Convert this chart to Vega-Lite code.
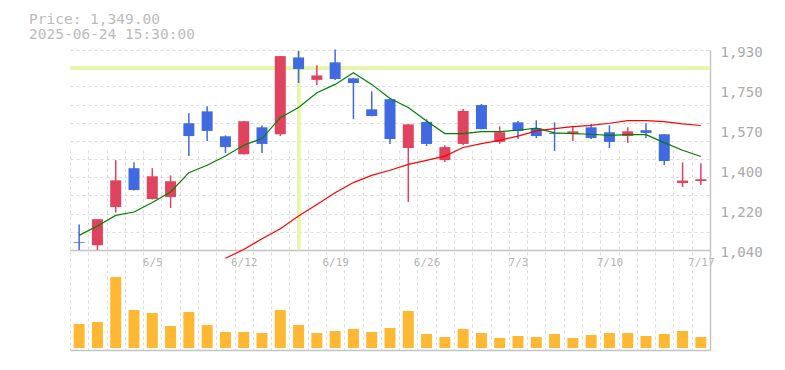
{
  "$schema": "https://vega.github.io/schema/vega-lite/v6.json",
  "autosize": {"type": "none"},
  "padding": {"left": 70, "top": 50, "right": 75, "bottom": 20},
  "width": 640,
  "height": 300,
  "background": "white",
  "title": {
    "text": ["Price: 1,349.00", "2025-06-24 15:30:00"],
    "anchor": "start",
    "frame": "group",
    "orient": "top",
    "dx": -41,
    "offset": 3,
    "font": "DejaVu Sans Mono",
    "fontSize": 14.5,
    "fontWeight": "normal",
    "color": "#bbbbbb",
    "lineHeight": 15
  },
  "config": {
    "font": "DejaVu Sans Mono",
    "view": {"stroke": null},
    "axis": {
      "labelFont": "DejaVu Sans Mono",
      "labelColor": "#aaaaaa",
      "domainColor": "#c4c4c4",
      "gridColor": "#dadada",
      "gridDash": [3, 3],
      "gridWidth": 1,
      "ticks": false
    }
  },
  "data": {
    "values": [
      {"d": "5/30", "o": 1076, "h": 1154, "l": 1040, "c": 1072, "v": 24000, "ma5": 1105, "ma25": null},
      {"d": "6/2", "o": 1061, "h": 1178, "l": 1040, "c": 1177, "v": 26000, "ma5": 1147, "ma25": null},
      {"d": "6/3", "o": 1231, "h": 1440, "l": 1206, "c": 1350, "v": 71000, "ma5": 1194, "ma25": null},
      {"d": "6/4", "o": 1404, "h": 1430, "l": 1305, "c": 1307, "v": 38000, "ma5": 1209, "ma25": null},
      {"d": "6/5", "o": 1267, "h": 1404, "l": 1265, "c": 1368, "v": 35000, "ma5": 1251, "ma25": null},
      {"d": "6/6", "o": 1276, "h": 1372, "l": 1227, "c": 1346, "v": 22000, "ma5": 1298, "ma25": null},
      {"d": "6/9", "o": 1604, "h": 1648, "l": 1458, "c": 1547, "v": 36000, "ma5": 1384, "ma25": null},
      {"d": "6/10", "o": 1657, "h": 1680, "l": 1525, "c": 1570, "v": 23000, "ma5": 1417, "ma25": null},
      {"d": "6/11", "o": 1546, "h": 1550, "l": 1472, "c": 1498, "v": 16000, "ma5": 1458, "ma25": 1003},
      {"d": "6/12", "o": 1466, "h": 1614, "l": 1465, "c": 1613, "v": 16000, "ma5": 1506, "ma25": 1042},
      {"d": "6/13", "o": 1586, "h": 1594, "l": 1472, "c": 1512, "v": 15000, "ma5": 1536, "ma25": 1090},
      {"d": "6/16", "o": 1555, "h": 1904, "l": 1547, "c": 1903, "v": 38000, "ma5": 1629, "ma25": 1135},
      {"d": "6/17", "o": 1897, "h": 1926, "l": 1783, "c": 1845, "v": 23000, "ma5": 1674, "ma25": 1191},
      {"d": "6/18", "o": 1797, "h": 1862, "l": 1774, "c": 1817, "v": 15000, "ma5": 1740, "ma25": 1243},
      {"d": "6/19", "o": 1875, "h": 1932, "l": 1796, "c": 1801, "v": 17000, "ma5": 1777, "ma25": 1295},
      {"d": "6/20", "o": 1804, "h": 1806, "l": 1622, "c": 1783, "v": 19000, "ma5": 1829, "ma25": 1340},
      {"d": "6/23", "o": 1666, "h": 1746, "l": 1635, "c": 1636, "v": 16000, "ma5": 1777, "ma25": 1372},
      {"d": "6/24", "o": 1711, "h": 1718, "l": 1512, "c": 1534, "v": 20000, "ma5": 1714, "ma25": 1395},
      {"d": "6/25", "o": 1494, "h": 1600, "l": 1254, "c": 1599, "v": 37000, "ma5": 1674, "ma25": 1421},
      {"d": "6/26", "o": 1610, "h": 1622, "l": 1503, "c": 1512, "v": 14000, "ma5": 1614, "ma25": 1439},
      {"d": "6/27", "o": 1440, "h": 1506, "l": 1432, "c": 1498, "v": 11000, "ma5": 1558, "ma25": 1458},
      {"d": "6/30", "o": 1512, "h": 1667, "l": 1507, "c": 1659, "v": 19000, "ma5": 1558, "ma25": 1496},
      {"d": "7/1", "o": 1685, "h": 1690, "l": 1577, "c": 1578, "v": 15000, "ma5": 1567, "ma25": 1513},
      {"d": "7/2", "o": 1521, "h": 1590, "l": 1512, "c": 1564, "v": 10000, "ma5": 1567, "ma25": 1528},
      {"d": "7/3", "o": 1608, "h": 1614, "l": 1534, "c": 1570, "v": 12000, "ma5": 1573, "ma25": 1547},
      {"d": "7/4", "o": 1582, "h": 1617, "l": 1538, "c": 1547, "v": 11000, "ma5": 1582, "ma25": 1570},
      {"d": "7/7", "o": 1560, "h": 1608, "l": 1481, "c": 1556, "v": 14000, "ma5": 1561, "ma25": 1580},
      {"d": "7/8", "o": 1556, "h": 1587, "l": 1525, "c": 1568, "v": 10000, "ma5": 1558, "ma25": 1589},
      {"d": "7/9", "o": 1586, "h": 1602, "l": 1534, "c": 1538, "v": 13000, "ma5": 1555, "ma25": 1595},
      {"d": "7/10", "o": 1564, "h": 1595, "l": 1494, "c": 1521, "v": 15000, "ma5": 1550, "ma25": 1604},
      {"d": "7/11", "o": 1547, "h": 1586, "l": 1516, "c": 1568, "v": 15000, "ma5": 1553, "ma25": 1616},
      {"d": "7/14", "o": 1573, "h": 1604, "l": 1538, "c": 1561, "v": 12000, "ma5": 1553, "ma25": 1616},
      {"d": "7/15", "o": 1555, "h": 1556, "l": 1418, "c": 1436, "v": 14000, "ma5": 1518, "ma25": 1611},
      {"d": "7/16", "o": 1338, "h": 1430, "l": 1320, "c": 1349, "v": 17000, "ma5": 1484, "ma25": 1601},
      {"d": "7/17", "o": 1347, "h": 1426, "l": 1329, "c": 1355, "v": 11000, "ma5": 1456, "ma25": 1594}
    ]
  },
  "resolve": {"scale": {"y": "independent"}, "axis": {"x": "independent", "y": "independent"}},
  "layer": [
    {
      "mark": {"type": "rule", "color": "#e6f5ad", "strokeWidth": 3},
      "encoding": {
        "y": {"datum": 1849, "type": "quantitative", "scale": {"domain": [1040, 1930], "range": [200, 0]}, "axis": null}
      }
    },
    {
      "mark": {"type": "rule", "color": "#e6f5ad", "strokeWidth": 3},
      "encoding": {
        "x": {"datum": "6/17", "type": "ordinal", "axis": null,
              "scale": {"type": "band", "paddingInner": 0, "paddingOuter": 0,
                        "domain": ["5/30","6/2","6/3","6/4","6/5","6/6","6/9","6/10","6/11","6/12","6/13","6/16","6/17","6/18","6/19","6/20","6/23","6/24","6/25","6/26","6/27","6/30","7/1","7/2","7/3","7/4","7/7","7/8","7/9","7/10","7/11","7/14","7/15","7/16","7/17"]}},
        "y": {"datum": 1930, "type": "quantitative", "scale": {"domain": [1040, 1930], "range": [200, 0]}, "axis": null},
        "y2": {"datum": 1046}
      }
    },
    {
      "mark": {"type": "bar", "color": "#ffb833", "width": 11},
      "encoding": {
        "x": {"field": "d", "type": "ordinal", "sort": null,
              "axis": {"orient": "bottom", "grid": false, "labels": false, "ticks": false, "domain": true, "domainWidth": 1.5, "title": null}},
        "y": {"field": "v", "type": "quantitative", "scale": {"domain": [-2000, 98000], "range": [300, 200]},
              "axis": {"orient": "right", "grid": false, "labels": false, "ticks": false, "domain": true, "domainWidth": 1.5, "values": [], "title": null}},
        "y2": {"datum": 0}
      }
    },
    {
      "mark": {"type": "rule", "strokeWidth": 1.5},
      "encoding": {
        "x": {"field": "d", "type": "ordinal", "sort": null,
              "axis": {"orient": "bottom", "offset": -100, "tickBand": "extent", "grid": true, "domain": true, "domainWidth": 1.5,
                       "labelFontSize": 11, "labelPadding": 6, "labelAngle": 0, "labelOverlap": false, "labelColor": "#b4b4b4",
                       "labelExpr": "indexof(['6/5','6/12','6/19','6/26','7/3','7/10','7/17'], datum.value) >= 0 ? datum.value : ''",
                       "title": null}},
        "y": {"field": "l", "type": "quantitative", "scale": {"domain": [1040, 1930], "range": [200, 0]},
              "axis": {"orient": "left", "grid": true, "labels": false, "ticks": false, "domain": false, "title": null,
                       "values": [1040, 1120.909, 1201.818, 1282.727, 1363.636, 1444.545, 1525.455, 1606.364, 1687.273, 1768.182, 1849.091, 1930]}},
        "y2": {"field": "h"},
        "color": {"condition": {"test": "datum.c < datum.o", "value": "#4169e1"}, "value": "#e0435e"}
      }
    },
    {
      "mark": {"type": "bar", "width": 11},
      "encoding": {
        "x": {"field": "d", "type": "ordinal", "sort": null, "axis": null},
        "y": {"field": "o", "type": "quantitative", "scale": {"domain": [1040, 1930], "range": [200, 0]},
              "axis": {"orient": "right", "grid": false, "ticks": false, "domain": true, "domainWidth": 1.5, "title": null,
                       "values": [1040, 1218, 1396, 1574, 1752, 1930],
                       "labelFontSize": 14, "labelPadding": 10, "labelOffset": 2.5,
                       "labelExpr": "datum.value == 1218 ? '1,220' : datum.value == 1396 ? '1,400' : datum.value == 1574 ? '1,570' : datum.value == 1752 ? '1,750' : format(datum.value, ',')"}},
        "y2": {"field": "c"},
        "color": {"condition": {"test": "datum.c < datum.o", "value": "#4169e1"}, "value": "#e0435e"}
      }
    },
    {
      "mark": {"type": "line", "color": "#008000", "strokeWidth": 1.2},
      "encoding": {
        "x": {"field": "d", "type": "ordinal", "sort": null, "axis": null},
        "y": {"field": "ma5", "type": "quantitative", "scale": {"domain": [1040, 1930], "range": [200, 0]}, "axis": null}
      }
    },
    {
      "mark": {"type": "line", "color": "#ff0000", "strokeWidth": 1.2},
      "encoding": {
        "x": {"field": "d", "type": "ordinal", "sort": null, "axis": null},
        "y": {"field": "ma25", "type": "quantitative", "scale": {"domain": [1040, 1930], "range": [200, 0]}, "axis": null}
      }
    }
  ]
}
